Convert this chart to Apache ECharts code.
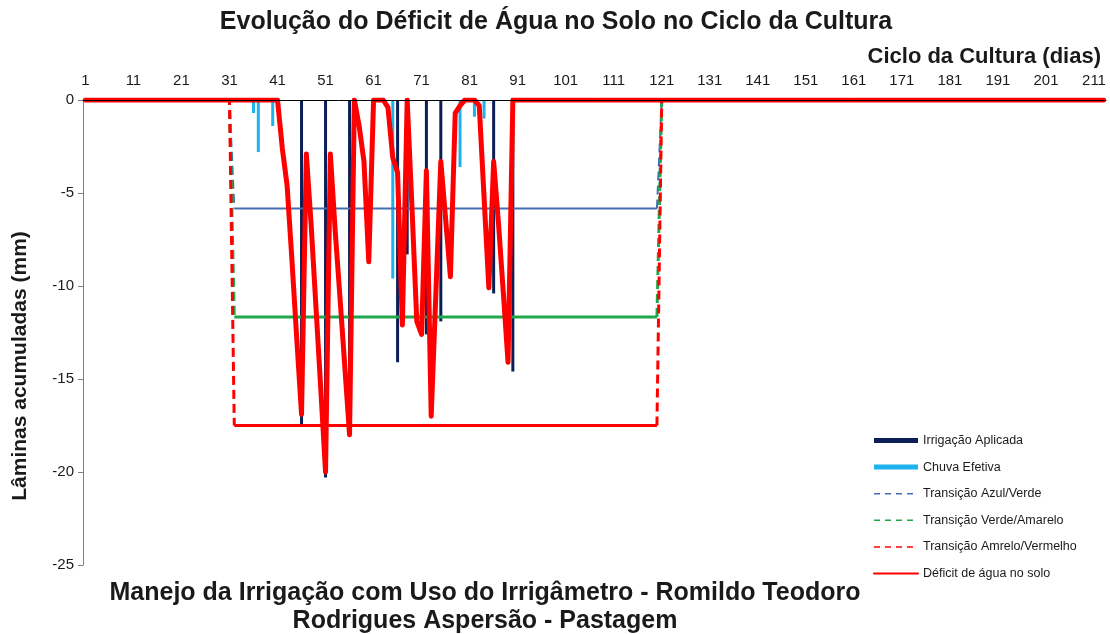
<!DOCTYPE html>
<html>
<head>
<meta charset="utf-8">
<script src="https://cdn.jsdelivr.net/npm/echarts@6/dist/echarts.min.js"></script>
<style>
  html, body { margin: 0; padding: 0; background: #fff; }
  #chart { width: 1110px; height: 634px; }
</style>
</head>
<body>
<div id="chart"></div>
<script>
// Ciclo da cultura: dias 1..213
const totalDays = 213;
const dayLabels = Array.from({ length: totalDays }, (_, i) => String(i + 1));

// Déficit de água no solo (mm) nos dias em que não é zero
const deficitDay = [42, 43, 44, 45, 46, 47, 48, 49, 50, 51, 52, 53, 54, 55, 56,
                    58, 59, 60,
                    64, 65, 66, 67,
                    69, 70, 71, 72, 73, 74, 75, 76, 77, 78, 79,
                    83, 84, 85, 86, 87, 88, 89];
const deficitMm  = [-2.6, -4.6, -8.6, -12.8, -16.9, -2.9, -6.7, -11.1, -15.5, -20.0, -2.9, -7.0, -10.6, -14.3, -18.0,
                    -1.4, -3.3, -8.7,
                    -0.4, -3.1, -3.9, -12.1,
                    -5.8, -11.9, -12.6, -3.8, -17.0, -10.2, -3.3, -6.4, -9.5, -0.7, -0.3,
                    -0.3, -5.2, -10.1, -3.3, -6.6, -10.3, -14.1];

// Irrigação aplicada (mm)
const irrigDay = [46, 51, 56, 66, 68, 72, 75, 86, 90];
const irrigMm  = [-17.5, -20.3, -18.1, -14.1, -8.3, -12.6, -11.9, -10.4, -14.6];

// Chuva efetiva (mm)
const rainDay = [36, 37, 40, 65, 79, 82, 84];
const rainMm  = [-0.7, -2.8, -1.4, -9.6, -3.6, -0.9, -1.0];

// Limites de transição (mm) válidos entre os dias indicados
const transitionFirstDay = 32;
const transitionLastDay = 120;
const azulVerde = -5.83;
const verdeAmarelo = -11.67;
const amareloVermelho = -17.5;

const yTicks = [0, -5, -10, -15, -20, -25];

// Série diária a partir de pares dia/valor
function daily(dayList, valueList, fallback) {
  const map = new Map(dayList.map((d, i) => [d, valueList[i]]));
  return dayLabels.map((_, i) => (map.has(i + 1) ? map.get(i + 1) : fallback));
}
// Limite de transição: zero fora da janela, nível dentro dela.
// part 'edges' devolve só as descidas/subidas nas pontas (tracejadas),
// part 'level' só o trecho horizontal (contínuo).
function transition(level, part) {
  return dayLabels.map((_, i) => {
    const d = i + 1;
    const inside = d >= transitionFirstDay && d <= transitionLastDay;
    if (part === 'level') return inside ? level : null;
    if (!inside) return 0;
    const edge = d === transitionFirstDay || d === transitionLastDay;
    return edge ? level : null;
  });
}

const font = '"Liberation Sans", Arial, sans-serif';
const chart = echarts.init(document.getElementById('chart'));

const dashedLine = (name, color, level, width) => ({
  name, type: 'line', data: transition(level, 'edges'), symbol: 'none',
  z: 2, silent: true,
  lineStyle: { color, width, type: [9, 5] }, itemStyle: { color }
});
const solidLine = (color, level, width) => ({
  type: 'line', data: transition(level, 'level'), symbol: 'none',
  z: 2, silent: true,
  lineStyle: { color, width, type: 'solid' }, itemStyle: { color }
});
const hiddenDot = { color: 'rgba(0,0,0,0)', borderColor: 'rgba(0,0,0,0)', borderWidth: 0 };

chart.setOption({
  animation: false,
  backgroundColor: '#ffffff',
  textStyle: { fontFamily: font },
  grid: { left: 83, right: 4, top: 100, bottom: 69 },
  graphic: [
    { type: 'text', x: 556, y: 22,
      style: { text: 'Evolução do Déficit de Água no Solo no Ciclo da Cultura', font: 'bold 25px ' + font,
               fill: '#1a1a1a', textAlign: 'center', textVerticalAlign: 'middle' } },
    { type: 'text', x: 1101, y: 57,
      style: { text: 'Ciclo da Cultura (dias)', font: 'bold 22px ' + font,
               fill: '#1a1a1a', textAlign: 'right', textVerticalAlign: 'middle' } },
    { type: 'text', x: 20, y: 366, rotation: Math.PI / 2,
      style: { text: 'Lâminas acumuladas (mm)', font: 'bold 21px ' + font,
               fill: '#1a1a1a', textAlign: 'center', textVerticalAlign: 'middle' } },
    { type: 'text', x: 485, y: 593,
      style: { text: 'Manejo da Irrigação com Uso do Irrigâmetro - Romildo Teodoro', font: 'bold 25px ' + font,
               fill: '#1a1a1a', textAlign: 'center', textVerticalAlign: 'middle' } },
    { type: 'text', x: 485, y: 621,
      style: { text: 'Rodrigues Aspersão - Pastagem', font: 'bold 25px ' + font,
               fill: '#1a1a1a', textAlign: 'center', textVerticalAlign: 'middle' } }
  ],
  legend: {
    orient: 'vertical', left: 873, top: 434, padding: 0,
    itemWidth: 44, itemHeight: 5, itemGap: 13.6,
    textStyle: { fontSize: 12.5, color: '#1a1a1a', fontFamily: font },
    data: [
      { name: 'Irrigação Aplicada', icon: 'rect' },
      { name: 'Chuva Efetiva', icon: 'rect' },
      { name: 'Transição Azul/Verde', itemStyle: hiddenDot, lineStyle: { width: 1.5, type: [6, 5] } },
      { name: 'Transição Verde/Amarelo', itemStyle: hiddenDot, lineStyle: { width: 1.5, type: [6, 5] } },
      { name: 'Transição Amrelo/Vermelho', itemStyle: hiddenDot, lineStyle: { width: 1.5, type: [6, 5] } },
      { name: 'Déficit de água no solo', itemStyle: hiddenDot, lineStyle: { width: 2 } }
    ]
  },
  xAxis: {
    type: 'category', position: 'top', data: dayLabels, z: 10,
    axisLine: { lineStyle: { color: '#000', width: 1 } },
    axisTick: { inside: true, length: 4, lineStyle: { color: '#000' },
                interval: (i) => i % 5 === 0 || i % 5 === 2 },
    axisLabel: { interval: 9, fontSize: 15, color: '#1a1a1a', margin: 12 },
    splitLine: { show: false }
  },
  yAxis: {
    type: 'value', min: -25, max: 0, interval: 5,
    axisLine: { show: true, lineStyle: { color: '#7f7f7f', width: 1 } },
    axisTick: { show: true, length: 5, lineStyle: { color: '#7f7f7f' } },
    axisLabel: { fontSize: 15, color: '#1a1a1a', margin: 9,
                 formatter: (v) => (yTicks.includes(v) ? String(v) : '') },
    splitLine: { show: false }
  },
  series: [
    {
      name: 'Irrigação Aplicada', type: 'bar', data: daily(irrigDay, irrigMm, null),
      barWidth: 3, barGap: '-100%', z: 1, itemStyle: { color: '#0b1e57' }
    },
    {
      name: 'Chuva Efetiva', type: 'bar', data: daily(rainDay, rainMm, null),
      barWidth: 3, barGap: '-100%', z: 1, itemStyle: { color: '#1eb1ec' }
    },
    dashedLine('Transição Azul/Verde', '#416fb2', azulVerde, 2),
    solidLine('#416fb2', azulVerde, 2),
    dashedLine('Transição Verde/Amarelo', '#1fa84c', verdeAmarelo, 3),
    solidLine('#1fa84c', verdeAmarelo, 3),
    dashedLine('Transição Amrelo/Vermelho', '#ff0000', amareloVermelho, 3),
    solidLine('#ff0000', amareloVermelho, 3),
    {
      name: 'Déficit de água no solo', type: 'line', data: daily(deficitDay, deficitMm, 0),
      symbol: 'none', z: 5,
      lineStyle: { color: '#ff0000', width: 5, join: 'round', cap: 'round' },
      itemStyle: { color: '#ff0000' }
    }
  ]
});
</script>
</body>
</html>
